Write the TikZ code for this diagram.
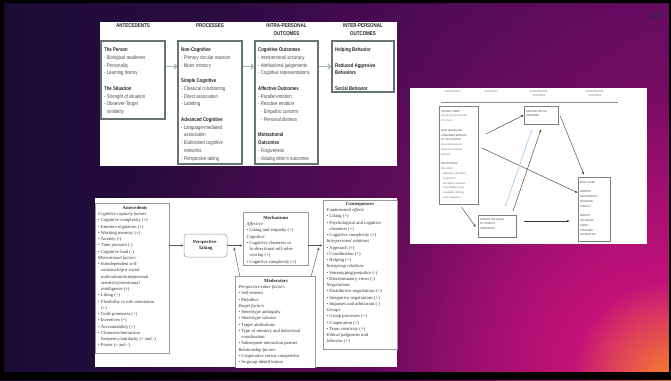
\documentclass[tikz,border=0pt]{standalone}
\usepackage{xcolor}
\usepackage{fontspec}
\setmainfont{Liberation Serif}
\newfontfamily\condfont[FakeStretch=0.8]{Liberation Sans}
\newfontfamily\slidefont{Liberation Sans}
\usepackage{tikz}
\usetikzlibrary{arrows.meta,fadings}

\definecolor{slidedark}{HTML}{1A0C36}
\definecolor{slidepurple}{HTML}{4E095C}
\definecolor{slidepink}{HTML}{D8137F}
\definecolor{slideorange}{HTML}{F5822A}
\definecolor{boxgreen}{HTML}{66756F}
\definecolor{arrowgreen}{HTML}{A6B8B2}
\definecolor{lightblue}{HTML}{9CCBF0}
\definecolor{pagegray}{HTML}{2F2540}

\tikzfading[name=glowfade, inner color=transparent!0, outer color=transparent!100]

\newcommand{\tophd}[1]{{\bfseries\color{black!85}#1}}
\newcommand{\rpnlhd}[1]{{\color{black!75}#1}}
\newcommand{\ital}[1]{{\itshape #1}}

\begin{document}
\begin{tikzpicture}[x=1pt, y=-1pt,
    tbox/.style={draw=boxgreen, line width=1.1pt, fill=white, inner sep=0},
    thead/.style={inner sep=0, anchor=north, align=center, font=\condfont\bfseries\fontsize{5.6}{8.1}\selectfont, text=black!85},
    ttext/.style={inner sep=0, anchor=north west, align=left, font=\condfont\fontsize{5.4}{7.75}\selectfont, text=black!70},
    tarr/.style={draw=arrowgreen, line width=1.3pt, -{Straight Barb[length=2.6pt,width=5pt]}},
    rbox/.style={draw=black!50, line width=.5pt, fill=white, inner sep=0},
    rtext/.style={inner sep=0, anchor=north west, align=left, font=\condfont\fontsize{2.7}{4.8}\selectfont, text=black!55},
    rarr/.style={draw=black!80, line width=.4pt, -{Latex[length=2.6pt,width=2pt]}},
    bbox/.style={draw=black!40, line width=.5pt, fill=white, inner sep=0},
    btitle/.style={inner sep=0, font=\bfseries\fontsize{4.7}{6.25}\selectfont, text=black!85},
    btext/.style={inner sep=0, anchor=north west, align=left, font=\fontsize{4.6}{6.25}\selectfont, text=black!80},
    barr/.style={draw=black!65, line width=.45pt, -{Latex[length=3pt,width=2.4pt]}}]
    \useasboundingbox (0,0) rectangle (671,380);
    \shade[left color=slidedark, right color=slidepurple] (0,0) rectangle (671,380);
    \fill[slidepink, opacity=.55, path fading=glowfade] (655,372) circle (560);
    \fill[slidepink, path fading=glowfade] (650,365) circle (280);
    \fill[slideorange, path fading=glowfade] (671,380) circle (100);
    \fill[black, even odd rule] (0,0) rectangle (671,380) (4,3) rectangle (669,372);
    \node[font=\slidefont\bfseries\fontsize{10}{10}\selectfont, text=pagegray] (pagenum) at (655,17) {47};

    \fill[white] (100,22) rectangle (397,166);
    \node[thead] (hant) at (133,23.5) {ANTECEDENTS};
    \node[thead] (hproc) at (210,23.5) {PROCESSES};
    \node[thead] (hintra) at (286.5,23.5) {INTRA-PERSONAL\\OUTCOMES};
    \node[thead] (hinter) at (363,23.5) {INTER-PERSONAL\\OUTCOMES};
    \node[tbox, minimum width=64, minimum height=78] (tperson) at (133,80) {};
    \node[tbox, minimum width=64, minimum height=123] (tproc) at (210,102.5) {};
    \node[tbox, minimum width=63, minimum height=123] (tintra) at (286.5,102.5) {};
    \node[tbox, minimum width=62, minimum height=51] (tinter) at (363,66.5) {};
    \node[ttext] (tpersontxt) at (104,47.4) {\tophd{The Person}\\- Biological readiness\\- Personality\\- Learning history\\[7.75pt]\tophd{The Situation}\\- Strenght of situation\\- Observer-Target\\\hspace*{3pt}similarity};
    \node[ttext] (tproctxt) at (181,47.4) {\tophd{Non-Cognitive}\\- Primary circular reaction\\- Motor mimicry\\[7.75pt]\tophd{Simple Cognitive}\\- Classical conditioning\\- Direct association\\- Labeling\\[7.75pt]\tophd{Advanced Cognitive}\\- Language-mediated\\\hspace*{3pt}association\\- Elaborated cognitive\\\hspace*{3pt}networks\\- Perspective taking};
    \node[ttext] (tintratxt) at (258,47.4) {\tophd{Cognitive Outcomes}\\- Interpersonal accuracy\\- Attributional judgements\\- Cognitive representations\\[7.75pt]\tophd{Affective Outcomes}\\- Parallel emotion\\- Reactive emotion\\\hspace*{3pt}- Empathic concern\\\hspace*{3pt}- Personal distress\\[7.75pt]\tophd{Motivational}\\\tophd{Outcomes}\\- Forgiveness\\- Valuing other's outcomes};
    \node[ttext] (tintertxt) at (335,47.4) {\tophd{Helping Behavior}\\[7.75pt]\tophd{Reduced Aggresive}\\\tophd{Behaviors}\\[7.75pt]\tophd{Social Behavior}};
    \draw[tarr] (tperson.east |- tinter) -- (tproc.west |- tinter);
    \draw[tarr] (tproc.east |- tinter) -- (tintra.west |- tinter);
    \draw[tarr] (tintra.east |- tinter) -- (tinter.west);

    \fill[white] (410,88) rectangle (647,244);
    \node[rtext, anchor=north, align=center] (rhant) at (453,90) {ANTECEDENTS};
    \node[rtext, anchor=north, align=center] (rhproc) at (491,90) {PROCESSES};
    \node[rtext, anchor=north, align=center] (rhintra) at (539,90) {INTRAPERSONAL\\OUTCOMES};
    \node[rtext, anchor=north, align=center] (rhinter) at (595,90) {INTERPERSONAL\\OUTCOMES};
    \draw[black!45, line width=.5pt] (441,102) -- (618,102);
    \node[rbox, minimum width=39, minimum height=98] (rleft) at (458.5,155) {};
    \node[rbox, minimum width=34, minimum height=18] (rfeel) at (541,115) {};
    \node[rbox, minimum width=38, minimum height=22] (rpersp) at (497,226) {};
    \node[rbox, minimum width=32, minimum height=64] (rbeing) at (594,209) {};
    \node[rtext] (rlefttxt) at (441,110) {\rpnlhd{CENTRAL THEME}\\My role as a nurse-the role\\of my nurse\\[4.8pt]\rpnlhd{WHAT NURSES AND}\\\rpnlhd{CONSUMERS BROUGHT}\\\rpnlhd{TO THE SITUATION}\\Nurse self awareness\\Patient life outside the\\admission\\[4.8pt]\rpnlhd{THE SITUATION}\\The conflicts\\\hspace*{2pt}Medication, risk of harm\\\hspace*{2pt}to self/others,\\\hspace*{2pt}absconding, reluctance\\\hspace*{2pt}to be admitted, nurses\\\hspace*{2pt}unavailable, declining\\\hspace*{2pt}nurse suggestions};
    \node[rtext] (rfeeltxt) at (526,110) {\rpnlhd{FEELINGS FOR THE}\\\rpnlhd{CONSUMER}};
    \node[rtext] (rpersptxt) at (480,218) {\rpnlhd{PERSPECTIVE TAKING}\\\rpnlhd{AS TRYING TO}\\\rpnlhd{UNDERSTAND}};
    \node[rtext] (rbeingtxt) at (580,181) {\rpnlhd{BEING THERE}\\[4.8pt]\rpnlhd{EMPATHIC}\\\rpnlhd{RELATIONSHIPS}\\\rpnlhd{WITHSTAND}\\\rpnlhd{CONFLICT}\\[4.8pt]\rpnlhd{EMPATHY}\\\rpnlhd{INFLUENCES}\\\rpnlhd{NURSE-}\\\rpnlhd{CONSUMER}\\\rpnlhd{SATISFACTION}};
    \coordinate (ra) at (486,134);
    \coordinate (rb) at (482,148);
    \coordinate (rc) at (513,211);
    \coordinate (rd) at (505,207);
    \draw[rarr] (ra) -- (rfeel.west);
    \draw[rarr] (rb) -- ([shift={(0,16)}]rbeing.north west);
    \draw[rarr] ([shift={(2,1)}]rfeel.east) -- ([shift={(-10,-2)}]rbeing.north);
    \draw[rarr] ([shift={(3,3)}]rleft.south) -- ([shift={(-2,1)}]rpersp.west);
    \draw[rarr] (rc) -- ([shift={(0,5)}]rfeel.south);
    \draw[lightblue, line width=.6pt, {Latex[length=2.6pt,width=2pt]}-{Latex[length=2.6pt,width=2pt]}] (rd) -- ([shift={(-9,5)}]rfeel.south);
    \draw[rarr] ([shift={(8,-5)}]rpersp.east) -- ([shift={(-8,12)}]rbeing.west);

    \fill[white] (95,198) rectangle (397,367);
    \node[bbox, minimum width=74, minimum height=150] (bant) at (132,278) {};
    \node[bbox, rounded corners=3pt, minimum width=43, minimum height=23, align=center, font=\bfseries\fontsize{4.7}{6.25}\selectfont, text=black!85] (bpt) at (205.5,245.5) {Perspective-\\Taking};
    \node[bbox, minimum width=65, minimum height=53] (bmech) at (275.5,238.5) {};
    \node[bbox, minimum width=74, minimum height=149] (bcons) at (360,274.5) {};
    \begin{scope}
        \clip (95,198) rectangle (397,367);
        \node[bbox, minimum width=80, minimum height=100] (bmod) at (275,326) {};
    \end{scope}
    \node[btitle] (bantt) at (135,208) {Antecedents};
    \node[btitle] (bmecht) at (276,218) {Mechanisms};
    \node[btitle] (bconst) at (360,204) {Consequences};
    \node[btitle] (bmodt) at (276,281) {Moderators};
    \node[btext] (banttxt) at (98,212.3) {\ital{Cognitive capacity factors}\\• Cognitive complexity (+)\\• Emotion regulation (+)\\• Working memory (+)\\• Anxiety (-)\\• Time pressure (-)\\• Cognitive load (-)\\\ital{Motivational factors}\\• Interdependent self-\\\hspace*{3pt}construals/pro-social\\\hspace*{3pt}motivations/interpersonal\\\hspace*{3pt}sensitivity/emotional\\\hspace*{3pt}intelligence (+)\\• Liking (+)\\• Flexibility in role orientation\\\hspace*{3pt}(+)\\• Guilt-proneness (+)\\• Incentives (+)\\• Accountability (+)\\• Closeness/interaction\\\hspace*{3pt}frequency/similarity (+ and -)\\• Power (+ and -)};
    \node[btext] (bmechtxt) at (246.5,222.3) {\ital{Affective}\\• Liking and empathy (+)\\\ital{Cognitive}\\• Cognitive closeness or\\\hspace*{3pt}bi-directional self-other\\\hspace*{3pt}overlap (+)\\• Cognitive complexity (+)};
    \node[btext] (bconstxt) at (326.5,208.3) {\ital{Fundamental effects}\\• Liking (+)\\• Psychological and cognitive\\\hspace*{3pt}closeness (+)\\• Cognitive complexity (+)\\\ital{Interpersonal relations}\\• Approach (+)\\• Coordination (+)\\• Helping (+)\\\ital{Intergroup relations}\\• Stereotyping/prejudice (-)\\• Discriminatory views (-)\\\ital{Negotiations}\\• Distributive negotiations (+)\\• Integrative negotiations (+)\\• Impasses and arbitration (-)\\\ital{Groups}\\• Group processes (+)\\• Cooperation (+)\\• Team creativity (+)\\\ital{Ethical judgments and}\\\ital{behavior} (+)};
    \node[btext] (bmodtxt) at (238.3,285.3) {\ital{Perspective-taker factors}\\• Self-esteem\\• Prejudice\\\ital{Target factors}\\• Stereotype ambiguity\\• Stereotype valence\\• Target attributions\\• Type of mimicry and behavioral\\\hspace*{3pt}coordination\\• Subsequent interaction partner\\\ital{Relationship factors}\\• Cooperative versus competitive\\• In-group identification};
    \coordinate (bm1) at (234,247);
    \coordinate (bm2) at (319,247);
    \draw[barr] (bant.east |- bpt) -- (bpt.west);
    \draw[barr] (bpt.east) -- (bmech.west |- bpt);
    \draw[barr] (bmech.east |- bpt) -- (bcons.west |- bpt);
    \draw[barr] ([shift={(5,0)}]bmod.north west) -- (bm1);
    \draw[barr] ([shift={(-4,0)}]bmod.north east) -- (bm2);
\end{tikzpicture}
\end{document}
